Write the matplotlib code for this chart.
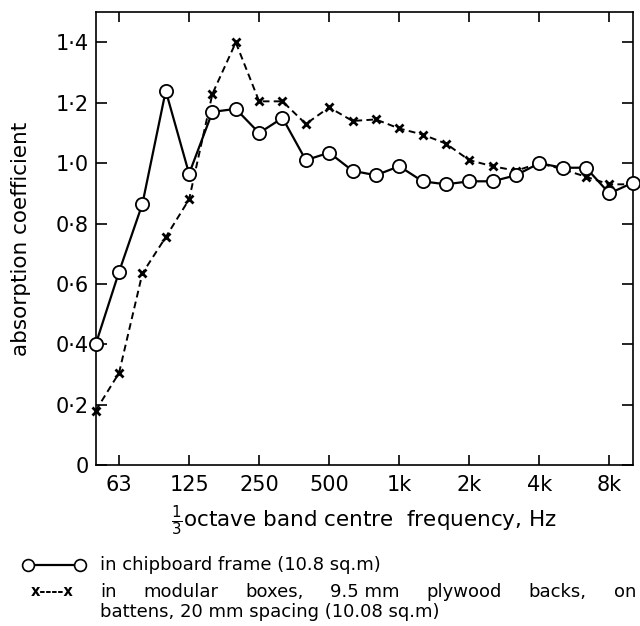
import matplotlib
matplotlib.use("Agg")
import matplotlib.pyplot as plt
from matplotlib.lines import Line2D

plt.rcParams['font.family'] = ['DejaVu Sans']
plt.rcParams['mathtext.fontset'] = 'dejavusans'

# one-third octave band centre frequencies
bands = ['50', '63', '80', '100', '125', '160', '200', '250', '315', '400',
         '500', '630', '800', '1k', '1.25k', '1.6k', '2k', '2.5k', '3.15k',
         '4k', '5k', '6.3k', '8k', '10k']
labelled_bands = ['63', '125', '250', '500', '1k', '2k', '4k', '8k']

# absorption coefficients
chipboard = [0.40, 0.64, 0.865, 1.24, 0.965, 1.17, 1.18, 1.10, 1.15, 1.01,
             1.035, 0.975, 0.96, 0.99, 0.94, 0.93, 0.94, 0.94, 0.96, 1.00,
             0.985, 0.985, 0.90, 0.935]
modular = [0.18, 0.305, 0.635, 0.755, 0.88, 1.23, 1.40, 1.205, 1.205, 1.13,
           1.185, 1.14, 1.145, 1.115, 1.095, 1.065, 1.01, 0.99, 0.975, 1.00,
           0.98, 0.955, 0.93, 0.93]

y_ticks = [0, 0.2, 0.4, 0.6, 0.8, 1.0, 1.2, 1.4]
y_labels = ['0', '0·2', '0·4', '0·6', '0·8', '1·0', '1·2', '1·4']

legend_chip = 'in chipboard frame (10.8 sq.m)'
legend_mod_1 = ['in', 'modular', 'boxes,', '9.5 mm', 'plywood', 'backs,', 'on']
legend_mod_2 = 'battens, 20 mm spacing (10.08 sq.m)'

W, H = 640, 626
fig = plt.figure(figsize=(W / 100, H / 100), dpi=100)
ax = fig.add_axes([95.7 / W, 1 - 465 / H, 537 / W, 452.7 / H])

x = list(range(len(bands)))
ax.plot(x, modular, color='black', lw=1.4, ls=(0, (3.5, 2.2)), marker='x',
        ms=5.5, mew=2.0, clip_on=False, zorder=2)
ax.plot(x, chipboard, color='black', lw=1.6, marker='o', ms=9.5,
        mfc='white', mec='black', mew=1.3, clip_on=False, zorder=3)

ax.set_xlim(0, len(bands) - 1)
ax.set_ylim(0, 1.5)
ax.set_xticks([bands.index(b) for b in labelled_bands])
ax.set_xticklabels(labelled_bands)
ax.set_yticks(y_ticks)
ax.set_yticklabels(y_labels)

for s in ax.spines.values():
    s.set_linewidth(1.2)
ax.tick_params(axis='both', direction='in', width=1.2, labelsize=15,
               top=True, right=True)
ax.tick_params(axis='y', length=8, pad=5)
ax.tick_params(axis='x', length=7, pad=7)

ax.set_ylabel('absorption coefficient', fontsize=15.5)
ax.yaxis.set_label_coords(-0.139, 0.5)
ax.yaxis.label.set_va('center')
ax.set_xlabel(r'$\frac{1}{3}$octave band centre  frequency, Hz', fontsize=15.5)
ax.xaxis.set_label_coords(0.5, -0.122)
ax.xaxis.label.set_va('center')

# key below the plot, placed in figure pixels
def fx(px):
    return px / W

def fy(py):
    return 1 - py / H

fig.add_artist(Line2D([fx(28), fx(80)], [fy(565), fy(565)], color='black',
                      lw=1.6, marker='o', ms=8.5, mfc='white', mec='black',
                      mew=1.2, transform=fig.transFigure))
fig.text(fx(52), fy(592), 'x----x', fontsize=10.5, fontweight='bold',
         ha='center', va='center')

key_left = 100
fs_key = 13
fig.text(fx(key_left), fy(565), legend_chip, fontsize=fs_key, va='center')
fig.text(fx(key_left), fy(612), legend_mod_2, fontsize=fs_key, va='center')

# justified middle line: words spread between the left margin and right edge
fig.canvas.draw()
renderer = fig.canvas.get_renderer()
arts = [fig.text(0, fy(592), w, fontsize=fs_key, va='center')
        for w in legend_mod_1]
widths = [a.get_window_extent(renderer).width for a in arts]
x_right = 636
gap = (x_right - key_left - sum(widths)) / (len(arts) - 1)
pos = key_left
for a, wd in zip(arts, widths):
    a.set_x(fx(pos))
    pos += wd + gap

fig.savefig('out.png', dpi=100)
